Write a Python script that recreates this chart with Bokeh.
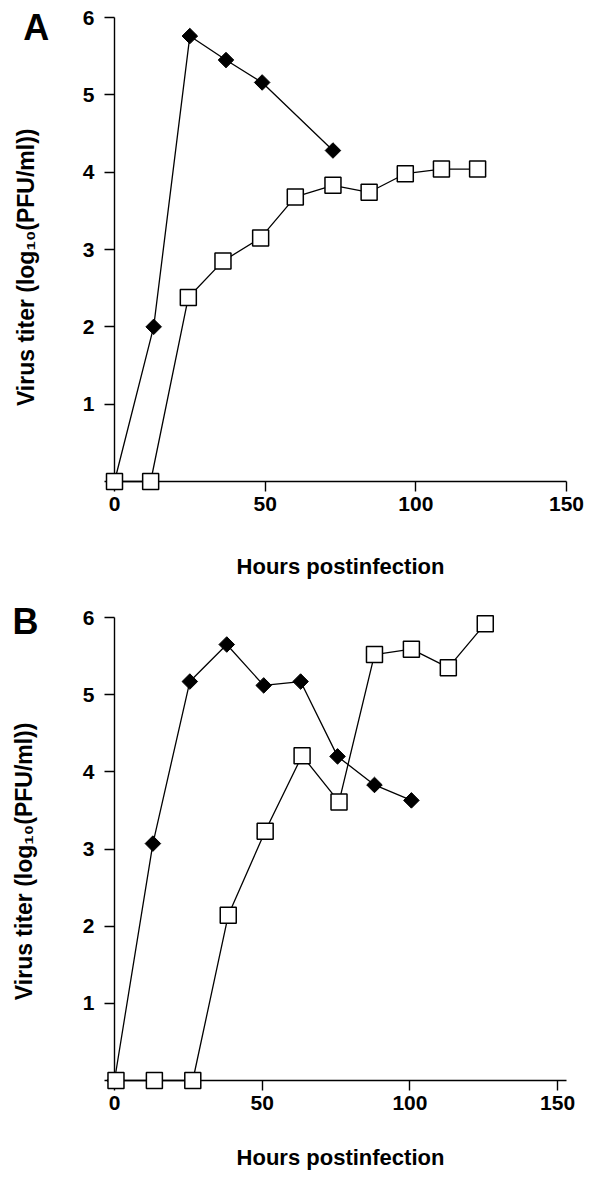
import numpy as np
from bokeh.plotting import figure
from bokeh.models import Range1d, FixedTicker
from bokeh.core.properties import value
from bokeh.layouts import column
from bokeh.embed import file_html
from bokeh.resources import INLINE

# ---------------- data ----------------
x_ticks = [0, 50, 100, 150]
y_ticks = [0, 1, 2, 3, 4, 5, 6]

# Panel A
a_diamond_hours = [0, 13, 25, 37, 49, 72.5]
a_diamond_titer = [0, 2.0, 5.76, 5.45, 5.16, 4.28]
a_square_hours = [0, 12, 24.5, 36, 48.5, 60, 72.5, 84.5, 96.5, 108.5, 120.5]
a_square_titer = [0, 0, 2.38, 2.85, 3.15, 3.68, 3.83, 3.74, 3.98, 4.04, 4.04]

# Panel B
b_diamond_hours = [0, 13, 25.5, 38, 50.5, 63, 75.5, 88, 100.5]
b_diamond_titer = [0, 3.07, 5.17, 5.65, 5.12, 5.17, 4.20, 3.83, 3.63]
b_square_hours = [0.5, 13.5, 26.5, 38.5, 51, 63.5, 76, 88, 100.5, 113, 125.5]
b_square_titer = [0, 0, 0, 2.14, 3.23, 4.21, 3.61, 5.52, 5.59, 5.35, 5.92]

panel_letters = ["A", "B"]

FONT = "Liberation Sans"
Y_LABEL = "Virus titer (log\u2081\u2080(PFU/ml))"
X_LABEL = "Hours postinfection"


def make_panel(letter, height, xmax, left, right, top, bottom, xlab_standoff,
               letter_pos, ylabel_pos, dh, dt, sh, st):
    p = figure(width=591, height=height, title=None,
               x_range=Range1d(0, xmax), y_range=Range1d(0, 6),
               output_backend="svg", toolbar_location=None,
               min_border_left=left, min_border_right=right,
               min_border_top=top, min_border_bottom=bottom)
    p.xgrid.visible = False
    p.ygrid.visible = False
    p.outline_line_color = None
    p.background_fill_color = "white"
    p.border_fill_color = "white"

    for ax in (p.xaxis[0], p.yaxis[0]):
        ax.axis_line_color = "black"
        ax.axis_line_width = 1.4
        ax.major_tick_line_color = "black"
        ax.major_tick_line_width = 1.4
        ax.major_tick_out = 10
        ax.major_tick_in = 0
        ax.minor_tick_line_color = None
        ax.major_label_text_font = FONT
        ax.major_label_text_font_style = "bold"
        ax.major_label_text_font_size = "21px"
        ax.major_label_text_color = "black"
        ax.axis_label_text_font = FONT
        ax.axis_label_text_font_style = "bold"
        ax.axis_label_text_font_size = "22px"
        ax.axis_label_text_color = "black"

    p.xaxis[0].ticker = FixedTicker(ticks=x_ticks)
    p.yaxis[0].ticker = FixedTicker(ticks=y_ticks)
    p.yaxis[0].major_label_overrides = {0: ""}
    p.xaxis[0].major_label_standoff = 5
    p.yaxis[0].major_label_standoff = 10
    p.xaxis[0].axis_label = X_LABEL
    p.xaxis[0].axis_label_standoff = xlab_standoff

    # series with filled diamonds
    p.line(dh, dt, line_color="black", line_width=1.3, level="overlay")
    p.scatter(dh, dt, marker="square", angle=np.pi / 4, size=11,
              fill_color="black", line_color="black", level="overlay")
    # series with open squares
    p.line(sh, st, line_color="black", line_width=1.3, level="overlay")
    p.scatter(sh, st, marker="square", size=16, fill_color="white",
              line_color="black", line_width=1.5, level="overlay")

    # rotated y-axis title (placed as text so it can be centred like the original)
    p.text(x=[ylabel_pos[0]], y=[ylabel_pos[1]], text=[Y_LABEL], angle=np.pi / 2,
           text_font=value(FONT), text_font_style=value("bold"),
           text_font_size=value("23px"), text_color="black",
           text_baseline=value("middle"), text_align=value("center"),
           level="overlay")

    # panel letter (overlay level so that it is not clipped to the frame)
    p.text(x=[letter_pos[0]], y=[letter_pos[1]], text=[letter],
           text_font=value(FONT), text_font_style=value("bold"),
           text_font_size=value("36px"), text_color="black",
           text_baseline=value("alphabetic"), text_align=value("left"),
           level="overlay")
    return p


pa = make_panel(panel_letters[0], 586, 150, 112, 19, 17, 105, 40,
                (-30.3, 5.87), (-29.5, 2.77),
                a_diamond_hours, a_diamond_titer, a_square_hours, a_square_titer)
pb = make_panel(panel_letters[1], 590, 153, 114, 25, 31, 96, 32,
                (-34.5, 5.95), (-30.6, 2.84),
                b_diamond_hours, b_diamond_titer, b_square_hours, b_square_titer)

layout = column(pa, pb, spacing=0)
open("out.html", "w").write(file_html(layout, INLINE))
